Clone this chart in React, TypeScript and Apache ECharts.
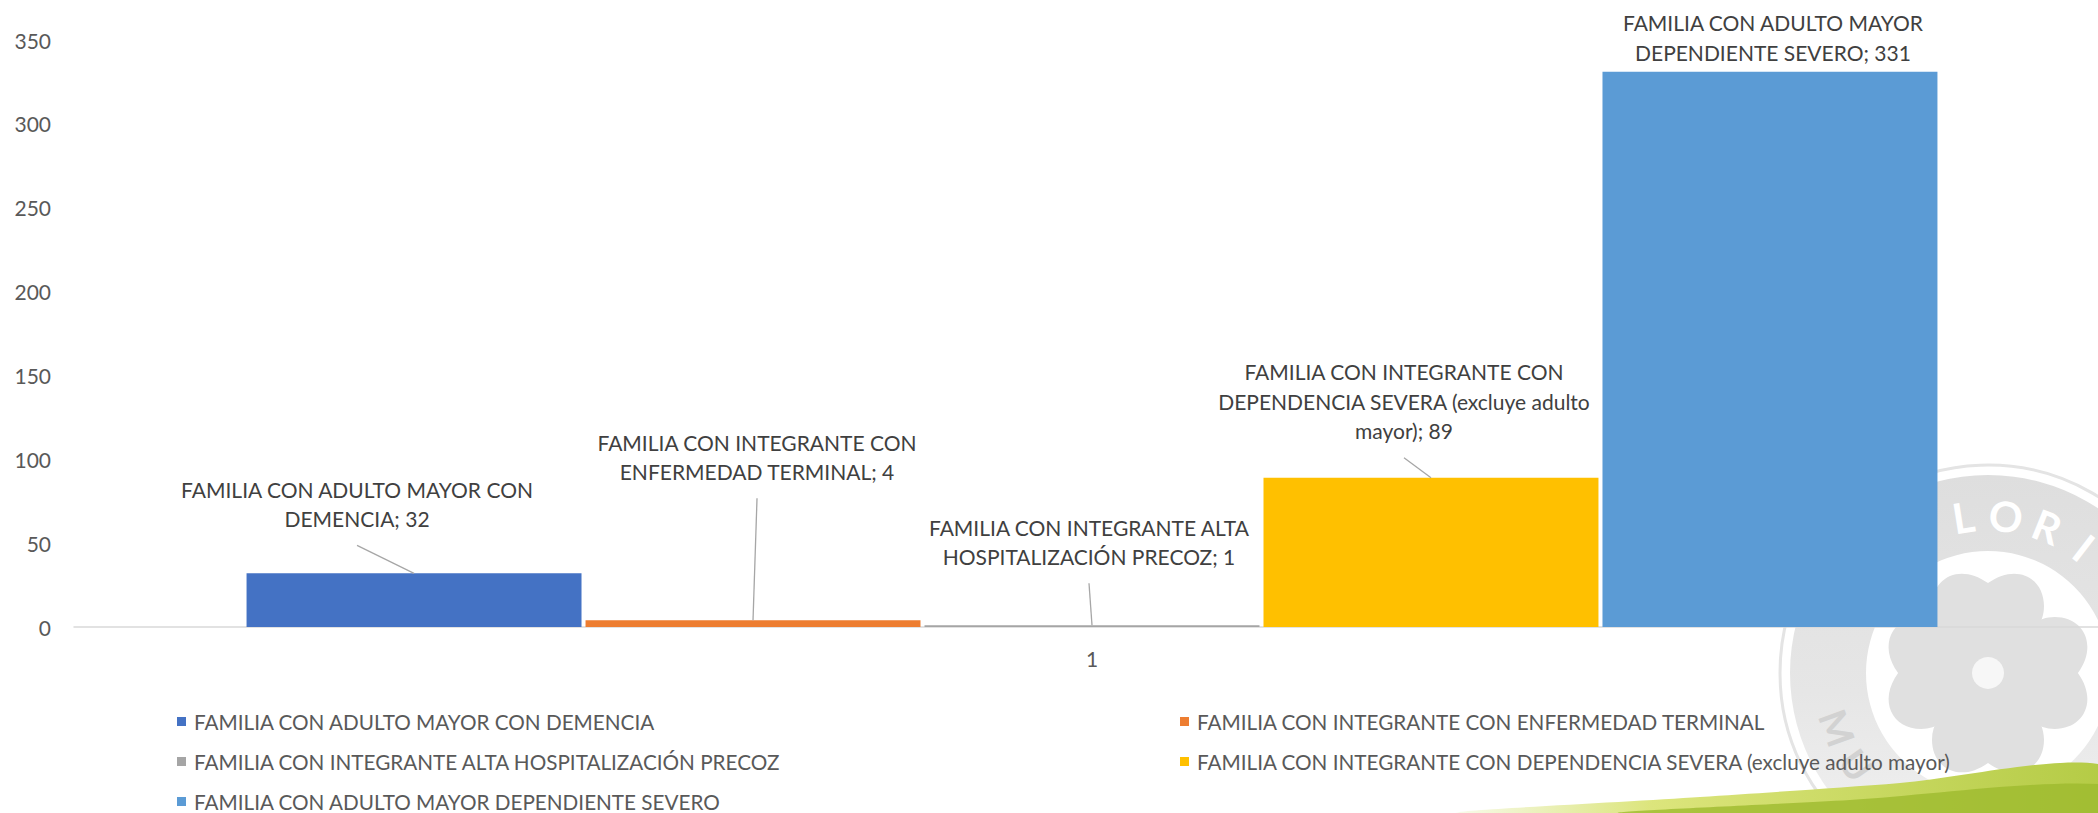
import React, { useEffect, useRef } from "react";
import * as echarts from "echarts";

const categories = ["1"];
const seriesNames = [
  "FAMILIA CON ADULTO MAYOR CON DEMENCIA",
  "FAMILIA CON INTEGRANTE CON ENFERMEDAD TERMINAL",
  "FAMILIA CON INTEGRANTE ALTA HOSPITALIZACIÓN PRECOZ",
  "FAMILIA CON INTEGRANTE CON DEPENDENCIA SEVERA (excluye adulto mayor)",
  "FAMILIA CON ADULTO MAYOR DEPENDIENTE SEVERO",
];
const labelNames = [
  "FAMILIA CON ADULTO MAYOR CON\nDEMENCIA",
  "FAMILIA CON INTEGRANTE CON\nENFERMEDAD TERMINAL",
  "FAMILIA CON INTEGRANTE ALTA\nHOSPITALIZACIÓN PRECOZ",
  "FAMILIA CON INTEGRANTE CON\nDEPENDENCIA SEVERA (excluye adulto\nmayor)",
  "FAMILIA CON ADULTO MAYOR\nDEPENDIENTE SEVERO",
];
const values = [32, 4, 1, 89, 331];
const colors = ["#4472C4", "#ED7D31", "#A5A5A5", "#FFC000", "#5B9BD5"];
const yTicks = { min: 0, max: 350, interval: 50 };

// label offsets (layout only)
const labelOffsets = [
  { dx: -57, dy: -35 },
  { dx: 4, dy: -129 },
  { dx: -3, dy: -49 },
  { dx: -27, dy: -27 },
  { dx: 3, dy: 0 },
];
const showLeader = [true, true, true, true, false];
const legendPos = [
  { left: 177, top: 711 },
  { left: 1180, top: 711 },
  { left: 177, top: 751 },
  { left: 1180, top: 751 },
  { left: 177, top: 791 },
];

const FONT = "Lato";
const CAT_GAP = 0.1695;
const BAR_GAP = 0.012;
const LABEL_DIST = 5;

export default function App() {
  const ref = useRef<HTMLDivElement>(null);
  useEffect(() => {
    if (!ref.current) return;
    const heartPath =
      "M 0 0 C -0.3 -0.3 -1 -0.6 -1 -1.15 C -1 -1.65 -0.5 -1.9 0 -1.55 C 0.5 -1.9 1 -1.65 1 -1.15 C 1 -0.6 0.3 -0.3 0 0 Z";
    echarts.graphic.registerShape("heart", echarts.graphic.extendPath(heartPath, {}));
    const chart = echarts.init(ref.current, undefined, { renderer: "svg" });

    const cx = 1988;
    const cy = 673;
    const wmColor = "#E0E0E0";
    const graphics: any[] = [];
    graphics.push({
      type: "ring",
      shape: { cx, cy, r: 198, r0: 122 },
      style: {
        fill: new echarts.graphic.LinearGradient(0, 0, 0, 1, [
          { offset: 0, color: "#DEDEDE" },
          { offset: 0.55, color: "#E6E6E6" },
          { offset: 1, color: "#F3F3F3" },
        ]),
      },
      silent: true,
    });
    graphics.push({
      type: "circle",
      shape: { cx, cy, r: 208 },
      style: { fill: "none", stroke: "#E4E4E4", lineWidth: 3 },
      silent: true,
    });
    const topLetters = ["L", "O", "R", "I"];
    topLetters.forEach((ch, i) => {
      const th = ((-9 + i * 15.5) * Math.PI) / 180;
      graphics.push({
        type: "text",
        x: cx + 158 * Math.sin(th),
        y: cy - 158 * Math.cos(th),
        rotation: -th,
        silent: true,
        style: {
          text: ch,
          fill: "#ffffff",
          font: `bold 42px ${FONT}`,
          align: "center",
          verticalAlign: "middle",
        },
      });
    });
    const botLetters = ["M", "U"];
    botLetters.forEach((ch, i) => {
      const th = ((250 - i * 15) * Math.PI) / 180;
      graphics.push({
        type: "text",
        x: cx + 160 * Math.sin(th),
        y: cy - 160 * Math.cos(th),
        rotation: Math.PI - th,
        silent: true,
        style: {
          text: ch,
          fill: "#D2D2D2",
          font: `bold 38px ${FONT}`,
          align: "center",
          verticalAlign: "middle",
        },
      });
    });
    [0, 1, 2, 3].forEach((k) => {
      graphics.push({
        type: "heart",
        x: cx,
        y: cy,
        rotation: (k * Math.PI) / 2,
        scaleX: 56,
        scaleY: 58,
        silent: true,
        style: { fill: wmColor },
      });
    });
    graphics.push({
      type: "circle",
      shape: { cx, cy, r: 16 },
      style: { fill: "#F7F7F7" },
      silent: true,
    });
    // green swoosh
    graphics.push({
      type: "polygon",
      shape: {
        points: [
          [1460, 813],
          [1700, 797],
          [1900, 783],
          [2098, 764],
          [2098, 813],
        ],
        smooth: 0.3,
      },
      style: {
        fill: new echarts.graphic.LinearGradient(0, 0, 1, 0, [
          { offset: 0, color: "rgba(214,226,120,0.15)" },
          { offset: 0.3, color: "#DCE57C" },
          { offset: 1, color: "#B4CB45" },
        ]),
      },
      silent: true,
    });
    graphics.push({
      type: "polygon",
      shape: {
        points: [
          [1620, 813],
          [1850, 800],
          [2098, 784],
          [2098, 813],
        ],
        smooth: 0.3,
      },
      style: { fill: "#9DBA2E", opacity: 0.8 },
      silent: true,
    });

    const barSeries = seriesNames.map((n, i) => ({
      type: "bar",
      name: n,
      data: [values[i]],
      barCategoryGap: `${CAT_GAP * 100}%`,
      barGap: `${BAR_GAP * 100}%`,
      itemStyle: { color: colors[i] },
      label: {
        show: true,
        position: "top",
        distance: LABEL_DIST,
        formatter: (p: any) => `${labelNames[i]}; ${p.value}`,
        color: "#404040",
        fontFamily: FONT,
        fontSize: 21,
        lineHeight: 29.5,
        align: "center",
      },
      labelLayout: { dx: labelOffsets[i].dx, dy: labelOffsets[i].dy },
    }));

    // leader lines, derived from the bar layout and the label offsets
    const leaderSeries = {
      type: "custom",
      silent: true,
      z: 3,
      data: values.map((v, i) => [0, v, i]),
      renderItem: (params: any, api: any) => {
        const i = api.value(2);
        if (!showLeader[i]) return null;
        const top = api.coord([api.value(0), api.value(1)]);
        const band = api.size([1, 0])[0];
        const n = values.length;
        const w = (band * (1 - CAT_GAP)) / (n + (n - 1) * BAR_GAP);
        const total = n * w + (n - 1) * w * BAR_GAP;
        const barCx = top[0] - total / 2 + i * w * (1 + BAR_GAP) + w / 2;
        const textBottom = top[1] - LABEL_DIST + labelOffsets[i].dy;
        return {
          type: "line",
          shape: {
            x1: barCx + labelOffsets[i].dx,
            y1: textBottom + 12,
            x2: barCx,
            y2: top[1],
          },
          style: { stroke: "#A6A6A6", lineWidth: 1.3 },
        };
      },
    };

    const option: any = {
      animation: false,
      backgroundColor: "#ffffff",
      textStyle: { fontFamily: FONT },
      graphic: graphics,
      grid: {
        left: 74,
        width: 2036,
        top: 40,
        bottom: 186,
        containLabel: false,
        outerBoundsMode: "none",
      },
      legend: seriesNames.map((n, i) => ({
        data: [n],
        left: legendPos[i].left,
        top: legendPos[i].top,
        padding: 0,
        icon: "rect",
        itemWidth: 9,
        itemHeight: 9,
        selectedMode: false,
        textStyle: {
          fontFamily: FONT,
          fontSize: 20.7,
          color: "#595959",
          padding: [0, 0, 0, 3],
        },
      })),
      xAxis: {
        type: "category",
        data: categories,
        axisLine: { lineStyle: { color: "#D9D9D9", width: 1.5 } },
        axisTick: { show: false },
        axisLabel: { color: "#595959", fontSize: 21, fontFamily: FONT, margin: 21 },
        splitLine: { show: false },
      },
      yAxis: {
        type: "value",
        min: yTicks.min,
        max: yTicks.max,
        interval: yTicks.interval,
        axisLine: { show: false },
        axisTick: { show: false },
        splitLine: { show: false },
        axisLabel: { color: "#595959", fontSize: 21, fontFamily: FONT, margin: 23 },
      },
      series: [...barSeries, leaderSeries],
    };
    chart.setOption(option);
    return () => chart.dispose();
  }, []);
  return (
    <div
      ref={ref}
      style={{ position: "fixed", left: 0, top: 0, width: 2098, height: 813 }}
    />
  );
}
